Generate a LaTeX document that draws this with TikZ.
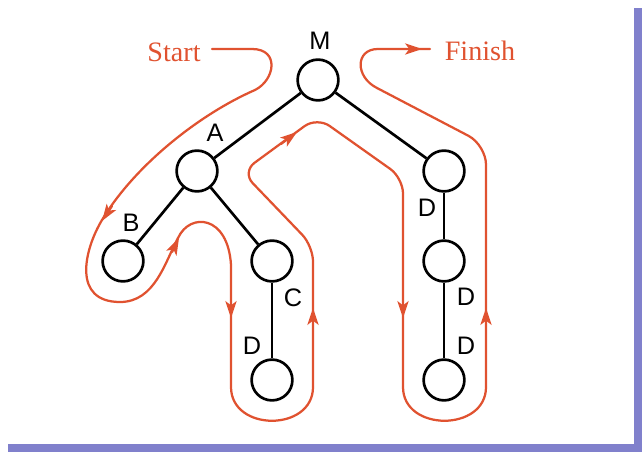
\documentclass[tikz,border=0pt]{standalone}
\usepackage{fontspec}
\setmainfont{Liberation Serif}
\newfontfamily\labelfont{Liberation Sans}
\usetikzlibrary{arrows.meta}
\definecolor{walkcol}{RGB}{224,82,48}
\definecolor{framecol}{RGB}{128,128,204}
\tikzset{
	vert/.style={draw, circle, line width=1.9pt, minimum size=29pt, inner sep=0pt},
	branch/.style={line width=1.9pt},
	walk/.style={draw=walkcol, line width=1.6pt, line cap=round},
	walkarrow/.style={walk, -{Stealth[length=12pt,width=8pt,inset=3pt]}},
	lbl/.style={font=\labelfont\fontsize{18}{20}\selectfont, inner sep=0pt},
	word/.style={font=\fontsize{20}{22}\selectfont, text=walkcol, inner sep=0pt}
}

\begin{document}
\begin{tikzpicture}[x=0.025cm, y=-0.025cm]
			\useasboundingbox (0,0) rectangle (642,452);
			\fill[framecol] (8,444) rectangle (642,452);
			\fill[framecol] (634,8) rectangle (642,452);
			
			% tree
			\node[vert] (nM) at (318,80) {};
			\node[vert] (nA) at (197,171) {};
			\node[vert] (nB) at (123,261) {};
			\node[vert] (nC) at (272,261) {};
			\node[vert] (nCD) at (272,380) {};
			\node[vert] (nD1) at (444,171) {};
			\node[vert] (nD2) at (444,261) {};
			\node[vert] (nD3) at (444,380) {};
			\draw[branch] (nM) -- (nA);
			\draw[branch] (nM) -- (nD1);
			\draw[branch] (nA) -- (nB);
			\draw[branch] (nA) -- (nC);
			\draw[branch] (nC) -- (nCD);
			\draw[branch] (nD1) -- (nD2);
			\draw[branch] (nD2) -- (nD3);
			
			\node[lbl] (tM) at (320,41) {M};
			\node[lbl] (tA) at (215,133) {A};
			\node[lbl] (tB) at (131,223) {B};
			\node[lbl] (tC) at (293,298) {C};
			\node[lbl] (tCD) at (252,346) {D};
			\node[lbl] (tD1) at (427,208) {D};
			\node[lbl] (tD2) at (466,297) {D};
			\node[lbl] (tD3) at (466,346) {D};
			
			\node[word] (start) at (174,52) {Start};
			\node[word] (finish) at (480,51) {Finish};
			
			% walk round the tree
			\draw[walk] (212,49) -- (252,49) .. controls (280,49) and (275,80) .. (255,90)
				.. controls (200,114) and (135,165) .. (102,220)
				.. controls (84,250) and (72,302) .. (120,302)
				.. controls (155,302) and (165,262) .. (178,238)
				.. controls (190,212) and (228,215) .. (231,265)
				-- (231,387) .. controls (231,432) and (313,432) .. (313,387);
			\draw[walk, rounded corners=11pt] (313,387) -- (313,246) -- (242,172) -- (317,117) -- (403,178) -- (403,387);
			\draw[walk] (403,387) .. controls (403,432) and (486,432) .. (486,387);
			\draw[walk, rounded corners=14pt] (486,387) -- (486,145) -- (377,88);
			\draw[walk] (377,88) .. controls (355,77) and (355,49) .. (378,49) -- (430,49);
			
			\draw[walkarrow] (112,206) -- (102,221);
			\draw[walkarrow] (172,252) -- (179,238);
			\draw[walkarrow] (231,298) -- (231,318);
			\draw[walkarrow] (313,328) -- (313,308);
			\draw[walkarrow] (281,144) -- (297,132);
			\draw[walkarrow] (403,298) -- (403,318);
			\draw[walkarrow] (486,328) -- (486,308);
			\draw[walkarrow] (402,49) -- (422,49);
		\end{tikzpicture}
\end{document}
